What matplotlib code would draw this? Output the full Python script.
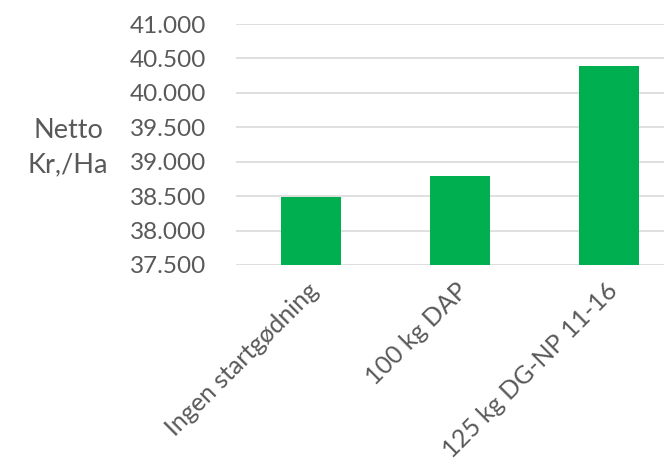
import matplotlib.pyplot as plt
import matplotlib.transforms as mtransforms
from matplotlib.ticker import FuncFormatter

# Data
categories = ['Ingen startgødning', '100 kg DAP', '125 kg DG-NP 11-16']
netto = [38490, 38790, 40390]
y_ticks = [37500, 38000, 38500, 39000, 39500, 40000, 40500, 41000]

plt.rcParams['font.family'] = ['Lato', 'DejaVu Sans']

fig = plt.figure(figsize=(6.64, 4.59), dpi=100)
ax = fig.add_axes([0.356, 0.4227, 0.674, 0.525])

ax.bar(range(len(categories)), netto, width=0.4, color='#00B050', zorder=3)

ax.set_ylim(37500, 41000)
ax.set_xlim(-0.5, len(categories) - 0.5)
ax.set_yticks(y_ticks)
ax.yaxis.set_major_formatter(FuncFormatter(lambda v, p: f'{int(v):,}'.replace(',', '.')))
ax.set_xticks(range(len(categories)))
ax.set_xticklabels(categories, rotation=45, ha='right', rotation_mode='anchor')

ax.grid(axis='y', color='#d9d9d9', linewidth=1.2, zorder=0)
for s in ax.spines.values():
    s.set_visible(False)
ax.tick_params(axis='y', length=0, labelsize=17.5, colors='#595959', pad=22)
ax.tick_params(axis='x', length=0, labelsize=18, colors='#595959', pad=8)

# shift rotated labels a bit
offset = mtransforms.ScaledTranslation(-4 / 100, -3 / 100, fig.dpi_scale_trans)
for lbl in ax.get_xticklabels():
    lbl.set_transform(lbl.get_transform() + offset)

fig.text(68 / 664, 1 - 148 / 459, 'Netto\nKr,/Ha', ha='center', va='center',
         fontsize=19.5, color='#595959', linespacing=1.45)

fig.savefig('out.png', dpi=100)
